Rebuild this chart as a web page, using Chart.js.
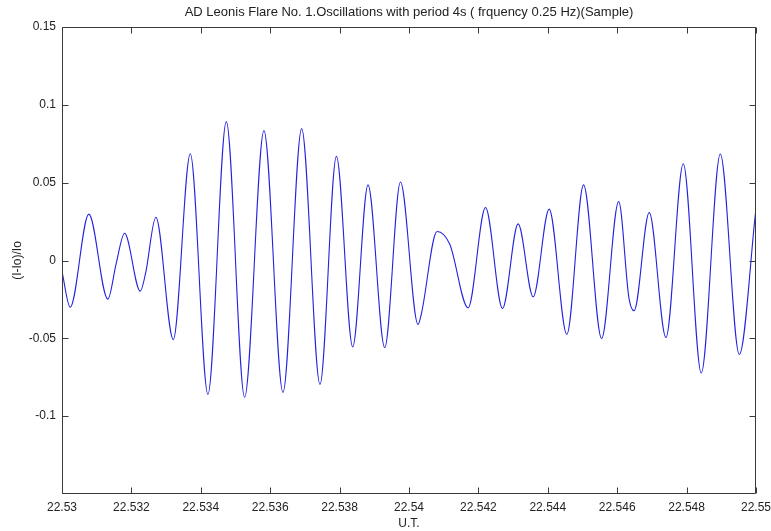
<!DOCTYPE html>
<html>
<head>
<meta charset="utf-8">
<script src="https://cdn.jsdelivr.net/npm/chart.js@4.4.1/dist/chart.umd.min.js"></script>
<style>
  html, body { margin: 0; padding: 0; background: #ffffff; }
  #wrap { width: 771px; height: 531px; }
</style>
</head>
<body>
<div id="wrap"><canvas id="c" width="771" height="531"></canvas></div>
<script>
// ---- Data ----
const timeUT = [
  22.530000, 22.530236, 22.530773, 22.531321, 22.531563, 22.531802,
  22.532255, 22.532408, 22.532705, 22.533207, 22.533697, 22.534205,
  22.534735, 22.535263, 22.535820, 22.536368, 22.536907, 22.537435,
  22.537908, 22.538378, 22.538819, 22.539301, 22.539754, 22.540261,
  22.540359, 22.540809, 22.541175, 22.541703, 22.542205, 22.542695,
  22.543145, 22.543578, 22.544039, 22.544549, 22.545031, 22.545550,
  22.546043, 22.546338, 22.546487, 22.546923, 22.547405, 22.547904,
  22.548423, 22.548971, 22.549519, 22.549990
];
const relIntensity = [
  -0.0072, -0.0300, 0.0298, -0.0248, -0.0018, 0.0175,
  -0.0197, -0.0083, 0.0278, -0.0508, 0.0686, -0.0860,
  0.0892, -0.0878, 0.0834, -0.0847, 0.0847, -0.0796,
  0.0669, -0.0555, 0.0486, -0.0559, 0.0504, -0.0411,
  -0.0340, 0.0186, 0.0104, -0.0304, 0.0340, -0.0308,
  0.0235, -0.0233, 0.0330, -0.0474, 0.0486, -0.0501,
  0.0379, -0.0240, -0.0323, 0.0308, -0.0495, 0.0622,
  -0.0723, 0.0684, -0.0604, 0.0314
];
const xTickValues = [22.53, 22.532, 22.534, 22.536, 22.538, 22.54, 22.542, 22.544, 22.546, 22.548, 22.55];
const yTickValues = [0.15, 0.1, 0.05, 0, -0.05, -0.1];

const titleText = 'AD Leonis Flare No. 1.Oscillations with period 4s ( frquency 0.25 Hz)(Sample)';
const xTitle = 'U.T.';
const yTitle = '(I-Io)/Io';

const points = timeUT.map((t, i) => ({ x: t, y: relIntensity[i] }));
const FONT = "'Liberation Sans', Arial, sans-serif";
const AXIS_COLOR = '#3a3a3a';

// Box + inward tick marks, positioned with the chart's own scales
const boxPlugin = {
  id: 'matlabBox',
  afterDatasetsDraw(chart) {
    const { ctx, chartArea: a, scales: { x, y } } = chart;
    const L = Math.round(a.left) + 0.5, R = Math.round(a.right) - 0.5;
    const T = Math.round(a.top) + 0.5, B = Math.round(a.bottom) - 0.5;
    const len = 6;
    ctx.save();
    ctx.strokeStyle = AXIS_COLOR;
    ctx.lineWidth = 1;
    ctx.beginPath();
    ctx.rect(L, T, R - L, B - T);
    x.ticks.forEach(tk => {
      const px = Math.round(x.getPixelForValue(tk.value)) + 0.5;
      ctx.moveTo(px, B); ctx.lineTo(px, B - len);
      ctx.moveTo(px, T); ctx.lineTo(px, T + len);
    });
    y.ticks.forEach(tk => {
      const py = Math.round(y.getPixelForValue(tk.value)) + 0.5;
      ctx.moveTo(L, py); ctx.lineTo(L + len, py);
      ctx.moveTo(R, py); ctx.lineTo(R - len, py);
    });
    ctx.stroke();
    ctx.restore();
  }
};

new Chart(document.getElementById('c'), {
  type: 'line',
  data: {
    datasets: [{
      data: points,
      borderColor: '#2222e0',
      borderWidth: 1.1,
      pointRadius: 0,
      fill: false,
      cubicInterpolationMode: 'monotone'
    }]
  },
  options: {
    responsive: false,
    animation: false,
    devicePixelRatio: 1,
    layout: { padding: { left: 0, right: 0, top: 0, bottom: 0 } },
    plugins: {
      legend: { display: false },
      tooltip: { enabled: false },
      title: {
        display: true,
        fullSize: false,
        text: titleText,
        color: '#222',
        font: { family: FONT, size: 13, weight: 'normal' },
        padding: { top: 5, bottom: 6.4 }
      }
    },
    scales: {
      x: {
        type: 'linear',
        min: 22.53,
        max: 22.55,
        afterBuildTicks: s => { s.ticks = xTickValues.map(v => ({ value: v })); },
        afterFit: s => { s.height = 37; s.paddingRight = 15; s.paddingLeft = 0; },
        grid: { display: false, drawTicks: false },
        border: { display: false },
        ticks: {
          autoSkip: false,
          maxRotation: 0,
          padding: 6,
          color: '#222',
          font: { family: FONT, size: 12 },
          callback: v => String(v)
        },
        title: {
          display: true,
          text: xTitle,
          color: '#222',
          font: { family: FONT, size: 12 },
          padding: { top: 0, bottom: 0 }
        }
      },
      y: {
        type: 'linear',
        min: -0.15,
        max: 0.15,
        afterBuildTicks: s => { s.ticks = yTickValues.map(v => ({ value: v })); },
        afterFit: s => { s.width = 62; },
        grid: { display: false, drawTicks: false },
        border: { display: false },
        ticks: {
          padding: 6,
          color: '#222',
          font: { family: FONT, size: 12 },
          callback: v => String(v)
        },
        title: {
          display: true,
          text: yTitle,
          color: '#222',
          font: { family: FONT, size: 12 },
          padding: { top: 10, bottom: 0 }
        }
      }
    }
  },
  plugins: [boxPlugin]
});
</script>
</body>
</html>
